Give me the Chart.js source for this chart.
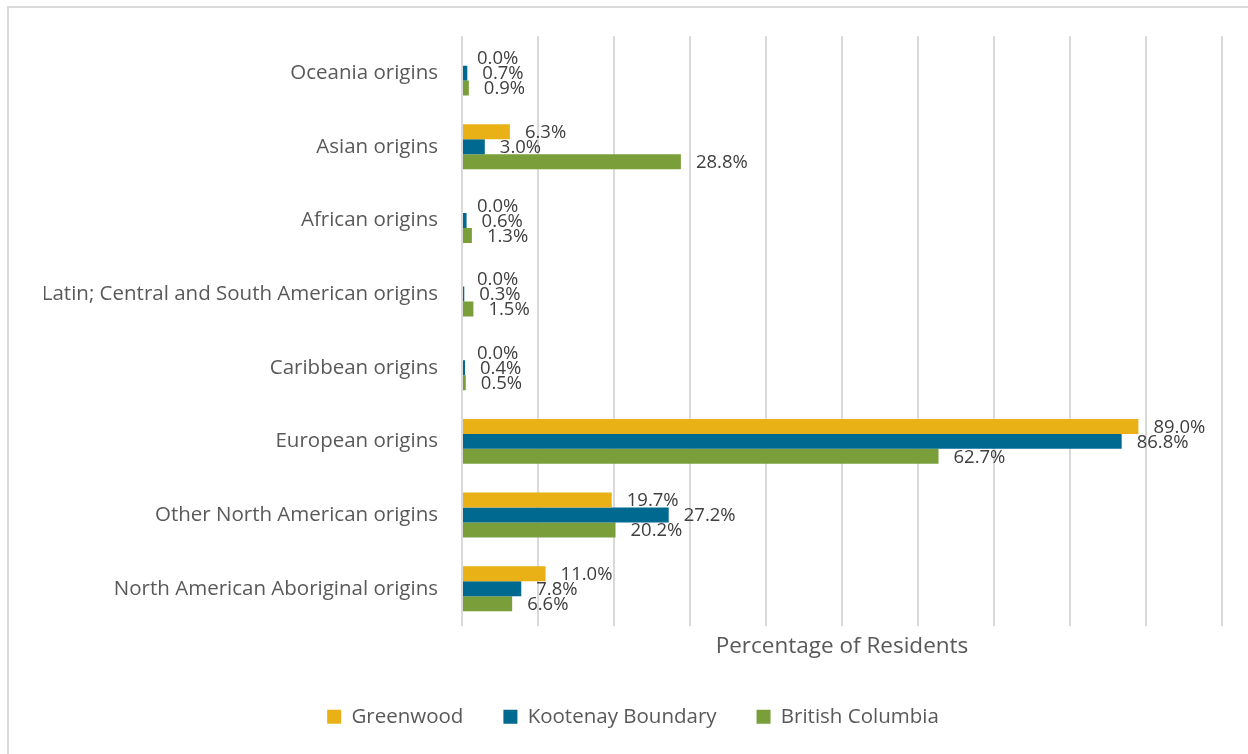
<!DOCTYPE html>
<html>
<head>
<meta charset="utf-8">
<script src="https://cdn.jsdelivr.net/npm/chart.js@4.4.0/dist/chart.umd.min.js"></script>
<style>
  html, body { margin: 0; padding: 0; background: #fff; }
  #frame {
    position: absolute; left: 7px; top: 6px; width: 1300px; height: 800px;
    border-top: 2px solid #d9d9d9; border-left: 2px solid #d9d9d9;
  }
  #wrap { position: absolute; left: 0; top: 0; width: 1248px; height: 754px; }
</style>
</head>
<body>
<div id="frame"></div>
<div id="wrap"><canvas id="chart" width="1248" height="754"></canvas></div>
<script>
const categories = [
  "Oceania origins",
  "Asian origins",
  "African origins",
  "Latin; Central and South American origins",
  "Caribbean origins",
  "European origins",
  "Other North American origins",
  "North American Aboriginal origins"
];
const greenwood = [0.0, 6.3, 0.0, 0.0, 0.0, 89.0, 19.7, 11.0];
const kootenayBoundary = [0.7, 3.0, 0.6, 0.3, 0.4, 86.8, 27.2, 7.8];
const britishColumbia = [0.9, 28.8, 1.3, 1.5, 0.5, 62.7, 20.2, 6.6];

const FONT = "'Open Sans', 'DejaVu Sans', sans-serif";

// value labels at the end of each bar
const barLabels = {
  id: "barLabels",
  afterDatasetsDraw(chart) {
    const ctx = chart.ctx;
    ctx.save();
    ctx.font = "18.5px " + FONT;
    ctx.fillStyle = "#404040";
    ctx.textAlign = "left";
    ctx.textBaseline = "middle";
    chart.data.datasets.forEach((ds, i) => {
      chart.getDatasetMeta(i).data.forEach((bar, j) => {
        ctx.fillText(ds.data[j].toFixed(1) + "%", bar.x + 15, bar.y + 1);
      });
    });
    ctx.restore();
  }
};

new Chart(document.getElementById("chart").getContext("2d"), {
  type: "bar",
  data: {
    labels: categories,
    datasets: [
      { label: "Greenwood", data: greenwood, backgroundColor: "#E9B116" },
      { label: "Kootenay Boundary", data: kootenayBoundary, backgroundColor: "#00698F" },
      { label: "British Columbia", data: britishColumbia, backgroundColor: "#7A9F3A" }
    ]
  },
  options: {
    indexAxis: "y",
    responsive: false,
    animation: false,
    categoryPercentage: 0.61,
    barPercentage: 1,
    layout: { padding: { top: 35, right: 26, left: 44, bottom: 17 } },
    scales: {
      x: {
        min: 0,
        max: 100,
        ticks: { display: false, stepSize: 10 },
        grid: { color: "#d9d9d9", lineWidth: 2, drawTicks: false },
        border: { display: false },
        title: {
          display: true,
          text: "Percentage of Residents",
          color: "#595959",
          font: { family: FONT, size: 22.5 },
          padding: { top: 6, bottom: 6 }
        },
        afterFit(scale) { scale.height = 41; }
      },
      y: {
        grid: { display: false, drawTicks: false },
        border: { display: false },
        ticks: { color: "#595959", font: { family: FONT, size: 20.5 }, padding: 24 },
        afterFit(scale) { scale.width = 462 - 44; }
      }
    },
    plugins: {
      legend: {
        position: "bottom",
        labels: {
          boxWidth: 14,
          boxHeight: 14,
          padding: 40,
          color: "#595959",
          font: { family: FONT, size: 20.5 }
        }
      },
      tooltip: { enabled: false }
    }
  },
  plugins: [barLabels]
});
</script>
</body>
</html>
